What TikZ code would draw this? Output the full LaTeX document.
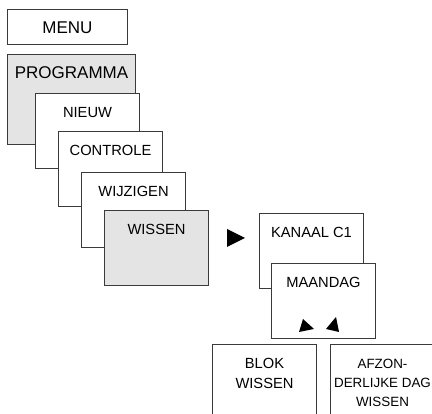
\documentclass[tikz,border=0pt]{standalone}
\usepackage{fontspec}
\setsansfont{Liberation Sans}
\usetikzlibrary{positioning}

\definecolor{framegray}{RGB}{58,58,58}
\definecolor{activegray}{RGB}{228,228,228}

\tikzset{
  menubox/.style={draw=framegray, line width=1pt, fill=white, align=center,
    font=\sffamily\fontsize{14.7}{20}\selectfont, minimum width=104pt,
    inner xsep=1pt, inner ysep=0pt, text height=24pt, text depth=51pt},
  topbox/.style={menubox, font=\sffamily\fontsize{17}{20}\selectfont},
  active/.style={fill=activegray}
}

\begin{document}
\begin{tikzpicture}
  \useasboundingbox (0,0) rectangle (432pt,-414pt);
  \clip (0,0) rectangle (432pt,-414pt);

  % Define the nodes
  \node[topbox, minimum width=120pt, text depth=11pt, anchor=north west] (menu) at (7pt,-9pt) {MENU};
  \node[topbox, active, minimum width=128pt, text depth=66pt, below right=45pt and 0pt of menu.north west] (programma) {PROGRAMMA};
  \node[menubox, below right=39pt and 28pt of programma.north west] (nieuw) {NIEUW};
  \node[menubox, below right=38pt and 23pt of nieuw.north west] (controle) {CONTROLE};
  \node[menubox, below right=41pt and 23pt of controle.north west] (wijzigen) {WIJZIGEN};
  \node[menubox, active, below right=38pt and 23pt of wijzigen.north west] (wissen) {WISSEN};
  \node[menubox, below right=3pt and 50pt of wissen.north east] (kanaal) {KANAAL C1};
  \node[menubox, below right=50pt and 12pt of kanaal.north west] (maandag) {MAANDAG};
  \node[menubox, text height=44pt, text depth=34pt, below left=5pt and 6.5pt of maandag.south] (blok) {BLOK\\WISSEN};
  \node[menubox, font=\sffamily\fontsize{13.4}{19}\selectfont, text height=62pt, text depth=16pt,
    below right=5pt and 6.5pt of maandag.south] (afzonderlijk) {AFZON-\\DERLIJKE DAG\\WISSEN};

  % Define the arrow heads
  \fill[shift={(wissen.north east)}] (18pt,-19pt) -- (18pt,-37pt) -- (36pt,-28pt) -- cycle;
  \fill[shift={(maandag.south)}] (-24.5pt,7pt) -- (-20.5pt,20pt) -- (-9.5pt,10pt) -- cycle;
  \fill[shift={(maandag.south)}] (2.5pt,10pt) -- (12.5pt,22pt) -- (15.5pt,7pt) -- cycle;
\end{tikzpicture}
\end{document}
